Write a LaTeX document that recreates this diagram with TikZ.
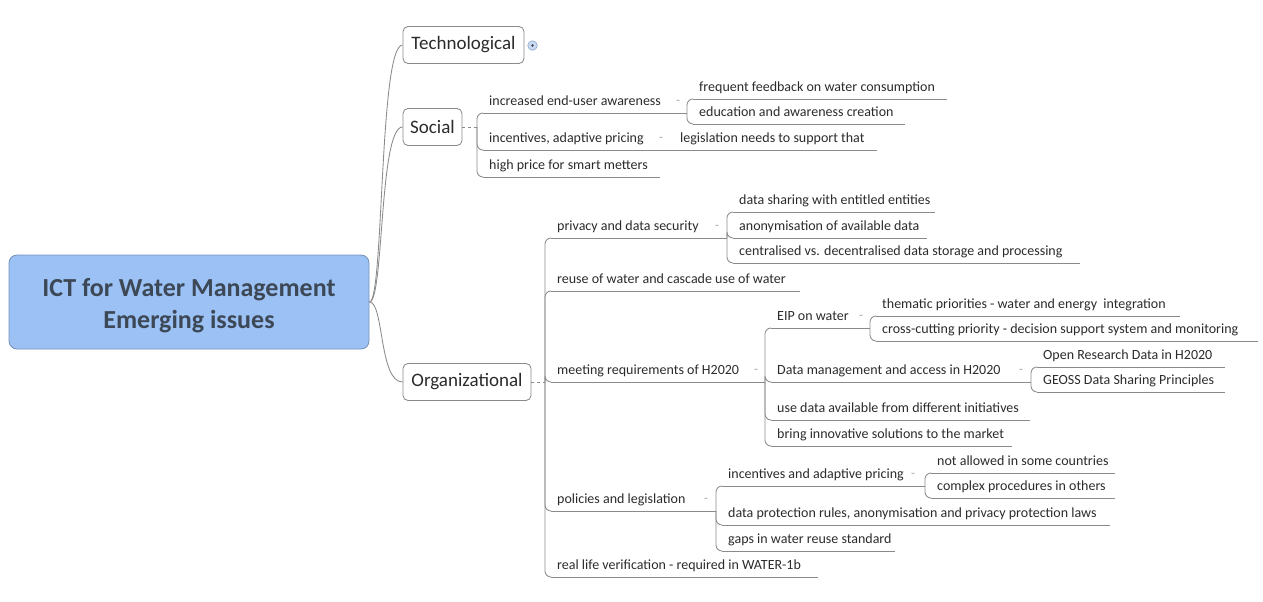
\documentclass[tikz,border=0pt]{standalone}
\usepackage{fontspec}
\setmainfont{Carlito}
\definecolor{linec}{HTML}{8A8A8A}
\definecolor{txt}{HTML}{2B2B2B}
\definecolor{rootfill}{HTML}{9BC1F5}
\definecolor{rootdraw}{HTML}{7491B8}
\definecolor{roottxt}{HTML}{3D4856}
\definecolor{markc}{HTML}{A8A8A8}
\definecolor{collfill}{HTML}{C9DAF2}
\definecolor{colldraw}{HTML}{8DA6CC}
\tikzset{
  leaf/.style={font=\fontsize{14}{16}\selectfont, text=txt, inner sep=0pt, anchor=base west},
  uline/.style={draw=linec, line width=0.85pt},
  conn/.style={draw=linec, line width=0.85pt, rounded corners=6pt},
  curvec/.style={draw=linec, line width=0.85pt},
  mainbox/.style={draw=linec, fill=white, rounded corners=5pt, line width=0.85pt,
    font=\fontsize{19}{22}\selectfont, text=txt, minimum height=37pt, inner sep=0pt},
  rootbox/.style={draw=rootdraw, fill=rootfill, rounded corners=8pt, line width=0.85pt,
    font=\fontsize{26}{32}\selectfont\bfseries, text=roottxt, align=center,
    minimum width=360pt, minimum height=94pt, inner sep=0pt},
  collmark/.style={font=\fontsize{13}{13}\selectfont, text=markc, inner sep=0pt},
  dashc/.style={draw=linec, line width=0.85pt, dash pattern=on 3pt off 3pt},
}
\newcommand\mmtopic[5]{%
  \coordinate (#1-s) at (#2,#3);
  \coordinate (#1-e) at (#4,#3);
  \draw[uline] (#1-s) -- (#1-e);
  \node[leaf] (#1) at ({#2+6},{#3-7.5}) {#5};
}
\newcommand\mmlow[1]{\raisebox{-4pt}[\height][\depth]{#1}}
\begin{document}
\begin{tikzpicture}[x=1pt,y=-1pt]
\useasboundingbox (0,0) rectangle (1263,602);

% root and main topics
\node[rootbox] (root) at (189,302) {\mmlow{ICT for Water Management}\\\mmlow{Emerging issues}};
\node[mainbox, minimum width=121pt] (tech) at (463.5,45) {Technological};
\node[mainbox, minimum width=59pt] (soc) at (432.5,127) {Social};
\node[mainbox, minimum width=128pt] (org) at (467,382) {Organizational};

\draw[curvec] (root.east) .. controls (384,302) and (379,45) .. (tech.west);
\draw[curvec] (root.east) .. controls (384,302) and (379,127) .. (soc.west);
\draw[curvec] (root.east) .. controls (384,302) and (379,382) .. (org.west);

% collapsed marker of Technological
\node[circle, draw=colldraw, fill=collfill, line width=0.6pt, minimum size=9.5pt, inner sep=0pt] (techcoll) at (532.5,45.5) {};
\fill[roottxt] (techcoll.center) circle (1.4pt);

% ---------- Social ----------
\coordinate (sb) at (477,127);
\draw[dashc] (soc.east) -- (sb);
\mmtopic{inc}{483}{113}{687}{increased end-user awareness}
\mmtopic{inp}{483}{150}{674}{incentives, adaptive pricing}
\mmtopic{high}{483}{177}{660}{high price for smart metters}
\foreach \c in {inc,inp,high} \draw[conn] (sb) |- (\c-s);

\coordinate (incb) at (687,113);
\node[collmark] (inc-m) at (678,102) {-};
\mmtopic{freq}{693}{99}{947}{frequent feedback on water consumption}
\mmtopic{edu}{693}{124}{905}{education and awareness creation}
\foreach \c in {freq,edu} \draw[conn] (incb) |- (\c-s);

\coordinate (inpb) at (674,150);
\node[collmark] (inp-m) at (661,139) {-};
\mmtopic{legis}{674}{150}{877}{legislation needs to support that}
\draw[conn] (inpb) -- (legis-s);

% ---------- Organizational ----------
\coordinate (ob) at (545,382);
\draw[dashc] (org.east) -- (ob);
\mmtopic{priv}{551}{238}{727}{privacy and data security}
\mmtopic{reuse}{551}{291}{800}{reuse of water and cascade use of water}
\mmtopic{meet}{551}{382}{765}{meeting requirements of H2020}
\mmtopic{pol}{551}{511}{716}{policies and legislation}
\mmtopic{real}{551}{577}{818}{real life verification - required in WATER-1b}
\foreach \c in {priv,reuse,meet,pol,real} \draw[conn] (ob) |- (\c-s);

% privacy
\coordinate (pb) at (727,238);
\node[collmark] (priv-m) at (717,227) {-};
\mmtopic{dshare}{733}{212}{935}{data sharing with entitled entities}
\mmtopic{anon}{733}{238}{927}{anonymisation of available data}
\mmtopic{central}{733}{263}{1080}{centralised vs. decentralised data storage and processing}
\foreach \c in {dshare,anon,central} \draw[conn] (pb) |- (\c-s);

% meeting requirements
\coordinate (mb) at (765,382);
\node[collmark] (meet-m) at (756,371) {-};
\mmtopic{eip}{771}{328}{870}{EIP on water}
\mmtopic{dm}{771}{382}{1031}{Data management and access in H2020}
\mmtopic{used}{771}{420}{1030}{use data available from different initiatives}
\mmtopic{bring}{771}{446}{1012}{bring innovative solutions to the market}
\foreach \c in {eip,dm,used,bring} \draw[conn] (mb) |- (\c-s);

\coordinate (eb) at (870,328);
\node[collmark] (eip-m) at (861,317) {-};
\mmtopic{them}{876}{316}{1180}{thematic priorities - water and energy\ \ integration}
\mmtopic{cross}{876}{341}{1258}{cross-cutting priority - decision support system and monitoring}
\foreach \c in {them,cross} \draw[conn] (eb) |- (\c-s);

\coordinate (db) at (1031,382);
\node[collmark] (dm-m) at (1021,371) {-};
\mmtopic{open}{1037}{367}{1225}{Open Research Data in H2020}
\mmtopic{geoss}{1037}{392}{1225}{GEOSS Data Sharing Principles}
\foreach \c in {open,geoss} \draw[conn] (db) |- (\c-s);

% policies
\coordinate (plb) at (716,511);
\node[collmark] (pol-m) at (706,500) {-};
\mmtopic{inc2}{722}{486}{925}{incentives and adaptive pricing}
\mmtopic{dprot}{722}{525}{1110}{data protection rules, anonymisation and privacy protection laws}
\mmtopic{gaps}{722}{551}{895}{gaps in water reuse standard}
\foreach \c in {inc2,dprot,gaps} \draw[conn] (plb) |- (\c-s);

\coordinate (i2b) at (925,486);
\node[collmark] (inc2-m) at (913,475) {-};
\mmtopic{notal}{931}{473}{1115}{not allowed in some countries}
\mmtopic{compl}{931}{498}{1115}{complex procedures in others}
\foreach \c in {notal,compl} \draw[conn] (i2b) |- (\c-s);
\end{tikzpicture}
\end{document}
